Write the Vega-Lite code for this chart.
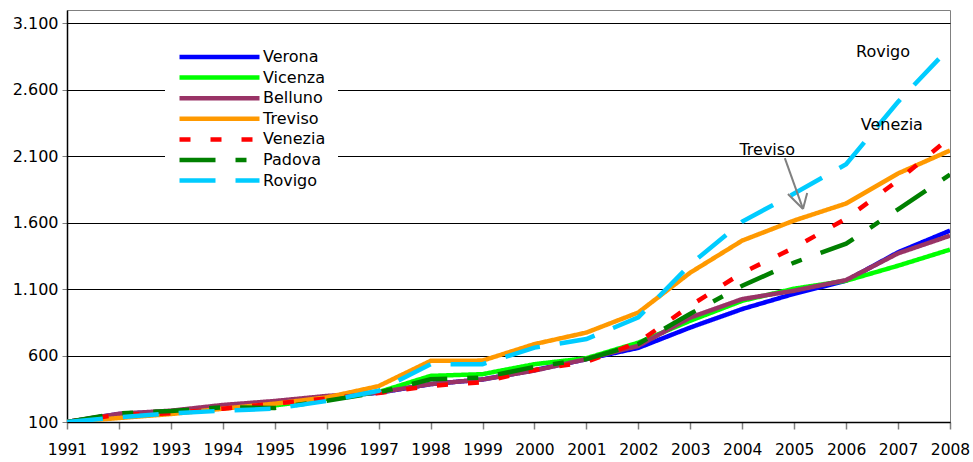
{
  "$schema": "https://vega.github.io/schema/vega-lite/v6.json",
  "width": 883,
  "height": 412,
  "autosize": "none",
  "padding": {"left": 67, "top": 10, "right": 23, "bottom": 40},
  "background": "white",
  "config": {"view": {"stroke": "#808080", "strokeWidth": 1}, "font": "DejaVu Sans"},
  "datasets": {
    "series": [
      {"year":1991,"city":"Verona","value":100},{"year":1992,"city":"Verona","value":160},{"year":1993,"city":"Verona","value":180},{"year":1994,"city":"Verona","value":215},{"year":1995,"city":"Verona","value":245},{"year":1996,"city":"Verona","value":285},{"year":1997,"city":"Verona","value":320},{"year":1998,"city":"Verona","value":385},{"year":1999,"city":"Verona","value":420},{"year":2000,"city":"Verona","value":490},{"year":2001,"city":"Verona","value":573},{"year":2002,"city":"Verona","value":658},{"year":2003,"city":"Verona","value":811},{"year":2004,"city":"Verona","value":950},{"year":2005,"city":"Verona","value":1065},{"year":2006,"city":"Verona","value":1163},{"year":2007,"city":"Verona","value":1377},{"year":2008,"city":"Verona","value":1540},
      {"year":1991,"city":"Vicenza","value":100},{"year":1992,"city":"Vicenza","value":150},{"year":1993,"city":"Vicenza","value":170},{"year":1994,"city":"Vicenza","value":210},{"year":1995,"city":"Vicenza","value":225},{"year":1996,"city":"Vicenza","value":275},{"year":1997,"city":"Vicenza","value":325},{"year":1998,"city":"Vicenza","value":447},{"year":1999,"city":"Vicenza","value":460},{"year":2000,"city":"Vicenza","value":535},{"year":2001,"city":"Vicenza","value":580},{"year":2002,"city":"Vicenza","value":697},{"year":2003,"city":"Vicenza","value":862},{"year":2004,"city":"Vicenza","value":1012},{"year":2005,"city":"Vicenza","value":1103},{"year":2006,"city":"Vicenza","value":1163},{"year":2007,"city":"Vicenza","value":1276},{"year":2008,"city":"Vicenza","value":1397},
      {"year":1991,"city":"Belluno","value":100},{"year":1992,"city":"Belluno","value":162},{"year":1993,"city":"Belluno","value":185},{"year":1994,"city":"Belluno","value":228},{"year":1995,"city":"Belluno","value":258},{"year":1996,"city":"Belluno","value":296},{"year":1997,"city":"Belluno","value":322},{"year":1998,"city":"Belluno","value":385},{"year":1999,"city":"Belluno","value":420},{"year":2000,"city":"Belluno","value":487},{"year":2001,"city":"Belluno","value":573},{"year":2002,"city":"Belluno","value":673},{"year":2003,"city":"Belluno","value":886},{"year":2004,"city":"Belluno","value":1025},{"year":2005,"city":"Belluno","value":1088},{"year":2006,"city":"Belluno","value":1168},{"year":2007,"city":"Belluno","value":1369},{"year":2008,"city":"Belluno","value":1502},
      {"year":1991,"city":"Treviso","value":100},{"year":1992,"city":"Treviso","value":130},{"year":1993,"city":"Treviso","value":160},{"year":1994,"city":"Treviso","value":200},{"year":1995,"city":"Treviso","value":238},{"year":1996,"city":"Treviso","value":285},{"year":1997,"city":"Treviso","value":370},{"year":1998,"city":"Treviso","value":560},{"year":1999,"city":"Treviso","value":562},{"year":2000,"city":"Treviso","value":686},{"year":2001,"city":"Treviso","value":773},{"year":2002,"city":"Treviso","value":924},{"year":2003,"city":"Treviso","value":1224},{"year":2004,"city":"Treviso","value":1465},{"year":2005,"city":"Treviso","value":1616},{"year":2006,"city":"Treviso","value":1744},{"year":2007,"city":"Treviso","value":1970},{"year":2008,"city":"Treviso","value":2143},
      {"year":1991,"city":"Venezia","value":100},{"year":1992,"city":"Venezia","value":155},{"year":1993,"city":"Venezia","value":165},{"year":1994,"city":"Venezia","value":200},{"year":1995,"city":"Venezia","value":238},{"year":1996,"city":"Venezia","value":276},{"year":1997,"city":"Venezia","value":318},{"year":1998,"city":"Venezia","value":372},{"year":1999,"city":"Venezia","value":400},{"year":2000,"city":"Venezia","value":492},{"year":2001,"city":"Venezia","value":552},{"year":2002,"city":"Venezia","value":700},{"year":2003,"city":"Venezia","value":975},{"year":2004,"city":"Venezia","value":1223},{"year":2005,"city":"Venezia","value":1412},{"year":2006,"city":"Venezia","value":1630},{"year":2007,"city":"Venezia","value":1917},{"year":2008,"city":"Venezia","value":2240},
      {"year":1991,"city":"Padova","value":100},{"year":1992,"city":"Padova","value":165},{"year":1993,"city":"Padova","value":183},{"year":1994,"city":"Padova","value":210},{"year":1995,"city":"Padova","value":205},{"year":1996,"city":"Padova","value":260},{"year":1997,"city":"Padova","value":322},{"year":1998,"city":"Padova","value":422},{"year":1999,"city":"Padova","value":434},{"year":2000,"city":"Padova","value":515},{"year":2001,"city":"Padova","value":573},{"year":2002,"city":"Padova","value":688},{"year":2003,"city":"Padova","value":915},{"year":2004,"city":"Padova","value":1125},{"year":2005,"city":"Padova","value":1300},{"year":2006,"city":"Padova","value":1442},{"year":2007,"city":"Padova","value":1700},{"year":2008,"city":"Padova","value":1962},
      {"year":1991,"city":"Rovigo","value":100},{"year":1992,"city":"Rovigo","value":135},{"year":1993,"city":"Rovigo","value":165},{"year":1994,"city":"Rovigo","value":185},{"year":1995,"city":"Rovigo","value":200},{"year":1996,"city":"Rovigo","value":258},{"year":1997,"city":"Rovigo","value":335},{"year":1998,"city":"Rovigo","value":535},{"year":1999,"city":"Rovigo","value":535},{"year":2000,"city":"Rovigo","value":660},{"year":2001,"city":"Rovigo","value":724},{"year":2002,"city":"Rovigo","value":887},{"year":2003,"city":"Rovigo","value":1285},{"year":2004,"city":"Rovigo","value":1608},{"year":2005,"city":"Rovigo","value":1819},{"year":2006,"city":"Rovigo","value":2040},{"year":2007,"city":"Rovigo","value":2509},{"year":2008,"city":"Rovigo","value":2920}
    ],
    "labels": [
      {"label":"Rovigo","year":2006.71,"value":2884},
      {"label":"Venezia","year":2006.88,"value":2335},
      {"label":"Treviso","year":2004.48,"value":2147}
    ],
    "arrow": [
      {"year":2004.82,"value":2086,"year2":2005.17,"value2":1703},
      {"year":2004.88,"value":1815,"year2":2005.17,"value2":1703},
      {"year":2005.25,"value":1823,"year2":2005.17,"value2":1703}
    ]
  },
  "layer": [
    {
      "data": {"name": "series"},
      "mark": {"type": "line", "strokeWidth": 4.5, "strokeCap": "butt", "clip": true},
      "encoding": {
        "x": {
          "field": "year", "type": "quantitative",
          "scale": {"domain": [1991, 2008], "nice": false, "zero": false},
          "axis": {
            "title": null, "values": [1991,1992,1993,1994,1995,1996,1997,1998,1999,2000,2001,2002,2003,2004,2005,2006,2007,2008],
            "format": "d", "grid": false, "tickSize": 7, "tickColor": "#808080", "tickWidth": 1.5,
            "domainColor": "black", "domainWidth": 1.5, "labelFontSize": 15.5, "labelColor": "black",
            "labelPadding": 13, "labelOverlap": false, "labelFlush": false, "labelFont": "DejaVu Sans"
          }
        },
        "y": {
          "field": "value", "type": "quantitative",
          "scale": {"domain": [100, 3200], "nice": false, "zero": false},
          "axis": {
            "title": null, "values": [100,600,1100,1600,2100,2600,3100],
            "labelExpr": "replace(format(datum.value, ','), ',', '.')",
            "grid": true, "gridColor": "black", "gridOpacity": 1, "gridWidth": 1,
            "tickSize": 5, "tickColor": "#808080", "domainColor": "black", "domainWidth": 1.5,
            "labelFontSize": 16, "labelColor": "black", "labelPadding": 4, "labelFont": "DejaVu Sans"
          }
        },
        "color": {
          "field": "city", "type": "nominal",
          "scale": {
            "domain": ["Verona","Vicenza","Belluno","Treviso","Venezia","Padova","Rovigo"],
            "range": ["#0000FF","#00FF00","#993366","#FF9900","#FF0000","#008000","#00CCFF"]
          },
          "legend": {
            "title": null, "orient": "none", "legendX": 98, "legendY": 25,
            "symbolType": "stroke", "symbolSize": 6400, "symbolStrokeWidth": 4.5,
            "clipHeight": 20, "rowPadding": 0.6, "labelFontSize": 16, "labelColor": "black",
            "labelFont": "DejaVu Sans", "labelOffset": 1, "fillColor": "white", "padding": 12, "labelLimit": 200
          }
        },
        "strokeDash": {
          "field": "city", "type": "nominal",
          "scale": {
            "domain": ["Verona","Vicenza","Belluno","Treviso","Venezia","Padova","Rovigo"],
            "range": [[1,0],[1,0],[1,0],[1,0],[11,20],[36,20,11,20],[36,20]]
          },
          "legend": {
            "title": null, "orient": "none", "legendX": 98, "legendY": 25,
            "symbolType": "stroke", "symbolSize": 6400, "symbolStrokeWidth": 4.5,
            "clipHeight": 20, "rowPadding": 0.6, "labelFontSize": 16, "labelColor": "black",
            "labelFont": "DejaVu Sans", "labelOffset": 1, "fillColor": "white", "padding": 12, "labelLimit": 200
          }
        }
      }
    },
    {
      "data": {"name": "arrow"},
      "mark": {"type": "rule", "color": "#808080", "strokeWidth": 2},
      "encoding": {
        "x": {"field": "year", "type": "quantitative"},
        "y": {"field": "value", "type": "quantitative"},
        "x2": {"field": "year2"},
        "y2": {"field": "value2"}
      }
    },
    {
      "data": {"name": "labels"},
      "mark": {"type": "text", "fontSize": 16, "font": "DejaVu Sans", "color": "black", "align": "center", "baseline": "middle"},
      "encoding": {
        "x": {"field": "year", "type": "quantitative"},
        "y": {"field": "value", "type": "quantitative"},
        "text": {"field": "label"}
      }
    }
  ]
}
